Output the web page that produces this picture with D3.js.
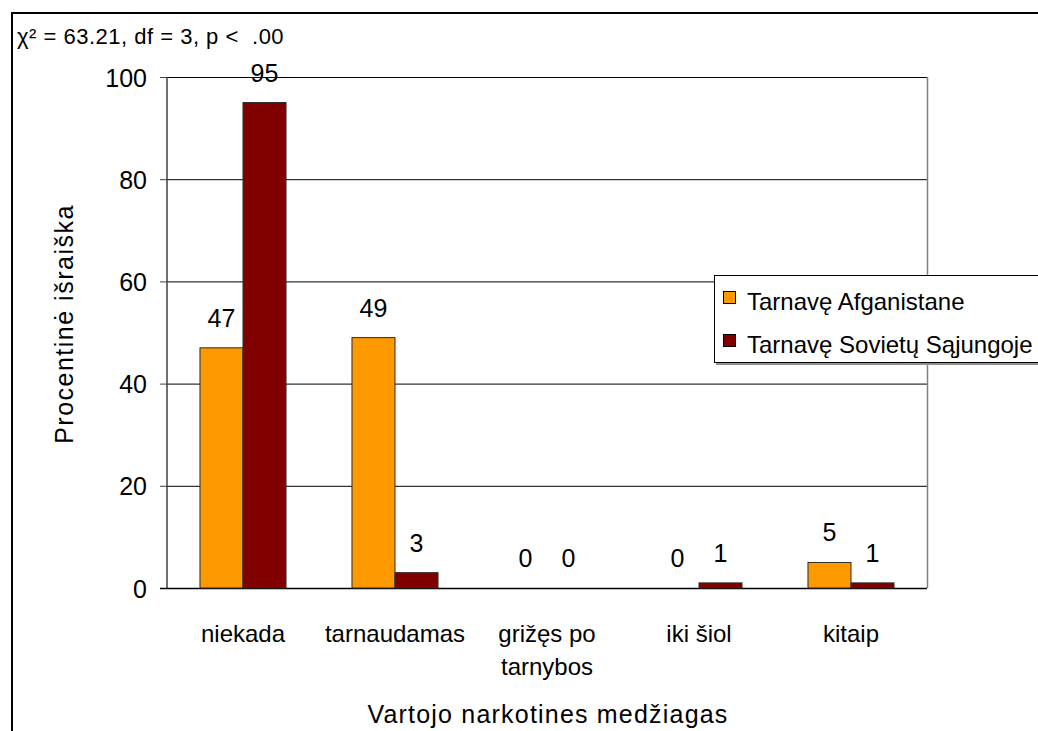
<!DOCTYPE html>
<html>
<head>
<meta charset="utf-8">
<script src="https://cdn.jsdelivr.net/npm/d3@7"></script>
<style>
  html, body { margin: 0; padding: 0; background: #fff; }
  svg { display: block; }
  text { fill: #000; font-family: 'Liberation Sans', Arial, sans-serif; }
</style>
</head>
<body>
<svg id="chart" width="1038" height="731"></svg>
<script>
// Drug use by place of military service (percent)
const categories = [["niekada"], ["tarnaudamas"], ["grižęs po", "tarnybos"], ["iki šiol"], ["kitaip"]];
const seriesNames = ["Tarnavę Afganistane", "Tarnavę Sovietų Sąjungoje"];
const afganistane = [47, 49, 0, 0, 5];
const sovietuSajungoje = [95, 3, 0, 1, 1];
const yTicks = [0, 20, 40, 60, 80, 100];
const statText = "χ² = 63.21, df = 3, p <  .00";
const yTitle = "Procentinė išraiška";
const xTitle = "Vartojo narkotines medžiagas";
const colors = ["#FF9900", "#800000"];

const svg = d3.select("#chart");
const plot = { left: 167, right: 927, top: 77, bottom: 588 };

// outer frame (top and left edges)
svg.append("path")
  .attr("d", "M12,731 L12,13 L1038,13")
  .attr("fill", "none").attr("stroke", "#000").attr("stroke-width", 2);

svg.append("text")
  .attr("x", 17).attr("y", 44)
  .style("font-size", "22px").style("letter-spacing", "0.5px")
  .style("white-space", "pre")
  .text(statText);

const x0 = d3.scaleBand()
  .domain(d3.range(categories.length))
  .range([plot.left, plot.right])
  .paddingInner(0.434).paddingOuter(0.217);
const x1 = d3.scaleBand()
  .domain(d3.range(seriesNames.length))
  .range([0, x0.bandwidth()]);
const y = d3.scaleLinear().domain([0, 100]).range([plot.bottom, plot.top]);

// gridlines
svg.append("g").selectAll("line")
  .data(yTicks.filter(t => t > 0))
  .join("line")
  .attr("x1", plot.left).attr("x2", plot.right)
  .attr("y1", d => y(d) + 0.5).attr("y2", d => y(d) + 0.5)
  .attr("stroke", "#000").attr("stroke-width", 1);

// plot area right border
svg.append("line")
  .attr("x1", plot.right + 0.5).attr("x2", plot.right + 0.5)
  .attr("y1", plot.top).attr("y2", plot.bottom)
  .attr("stroke", "#808080").attr("stroke-width", 1.5);

// y axis
const yAxis = d3.axisLeft(y).tickValues(yTicks).tickSize(7).tickPadding(13);
const gy = svg.append("g").attr("transform", `translate(${plot.left},0)`).call(yAxis);
gy.select(".domain").attr("stroke", "#404040").attr("stroke-width", 1.5).attr("d", `M0,${plot.top}V${plot.bottom}`);
gy.selectAll(".tick line").attr("stroke", "#404040");
gy.selectAll(".tick text")
  .attr("font-family", null)
  .style("font-family", "'Liberation Sans', Arial, sans-serif")
  .style("font-size", "25px").attr("fill", "#000")
  .attr("dy", "0.36em");

// x axis base line
svg.append("line")
  .attr("x1", plot.left - 7).attr("x2", plot.right)
  .attr("y1", plot.bottom + 0.5).attr("y2", plot.bottom + 0.5)
  .attr("stroke", "#000").attr("stroke-width", 1.5);

// bars
const seriesData = [afganistane, sovietuSajungoje];
const groups = svg.append("g").selectAll("g")
  .data(categories.map((c, i) => i))
  .join("g")
  .attr("transform", i => `translate(${x0(i)},0)`);

groups.selectAll("rect")
  .data(i => seriesData.map((s, k) => ({ k, v: s[i] })))
  .join("rect")
  .attr("x", d => x1(d.k))
  .attr("y", d => y(d.v))
  .attr("width", x1.bandwidth())
  .attr("height", d => y(0) - y(d.v))
  .attr("fill", d => colors[d.k])
  .attr("stroke", d => d.v > 0 ? "#2a2a2a" : "none")
  .attr("stroke-width", 1);

// value labels
groups.selectAll("text")
  .data(i => seriesData.map((s, k) => ({ k, v: s[i] })))
  .join("text")
  .attr("x", d => x1(d.k) + x1.bandwidth() / 2)
  .attr("y", d => y(d.v) - 21)
  .attr("text-anchor", "middle")
  .style("font-size", "25px")
  .text(d => d.v);

// category labels
const catLabels = svg.append("g").selectAll("text")
  .data(categories)
  .join("text")
  .attr("x", (d, i) => x0(i) + x0.bandwidth() / 2)
  .attr("y", 642)
  .attr("text-anchor", "middle")
  .style("font-size", "24px");
catLabels.selectAll("tspan")
  .data(d => d)
  .join("tspan")
  .attr("x", function () { return this.parentNode.getAttribute("x"); })
  .attr("dy", (d, i) => i === 0 ? 0 : 33)
  .text(d => d);

// axis titles
svg.append("text")
  .attr("transform", `translate(73,324) rotate(-90)`)
  .attr("text-anchor", "middle")
  .style("font-size", "25px").style("letter-spacing", "1.5px")
  .text(yTitle);

svg.append("text")
  .attr("x", 548).attr("y", 723)
  .attr("text-anchor", "middle")
  .style("font-size", "25px").style("letter-spacing", "1.2px")
  .text(xTitle);

// legend
const legend = svg.append("g").attr("transform", "translate(714,275)");
legend.append("rect")
  .attr("x", 2).attr("y", 2).attr("width", 340).attr("height", 88)
  .attr("fill", "#909090");
legend.append("rect")
  .attr("x", 0.5).attr("y", 0.5).attr("width", 340).attr("height", 87)
  .attr("fill", "#fff").attr("stroke", "#000").attr("stroke-width", 1);
const items = legend.selectAll("g.item")
  .data(seriesNames)
  .join("g").attr("class", "item")
  .attr("transform", (d, i) => `translate(0,${i * 43})`);
items.append("rect")
  .attr("x", 9.5).attr("y", 16.5).attr("width", 12).attr("height", 12)
  .attr("fill", (d, i) => colors[i]).attr("stroke", "#000");
items.append("text")
  .attr("x", 33).attr("y", 35)
  .style("font-size", "24px")
  .text(d => d);
</script>
</body>
</html>
